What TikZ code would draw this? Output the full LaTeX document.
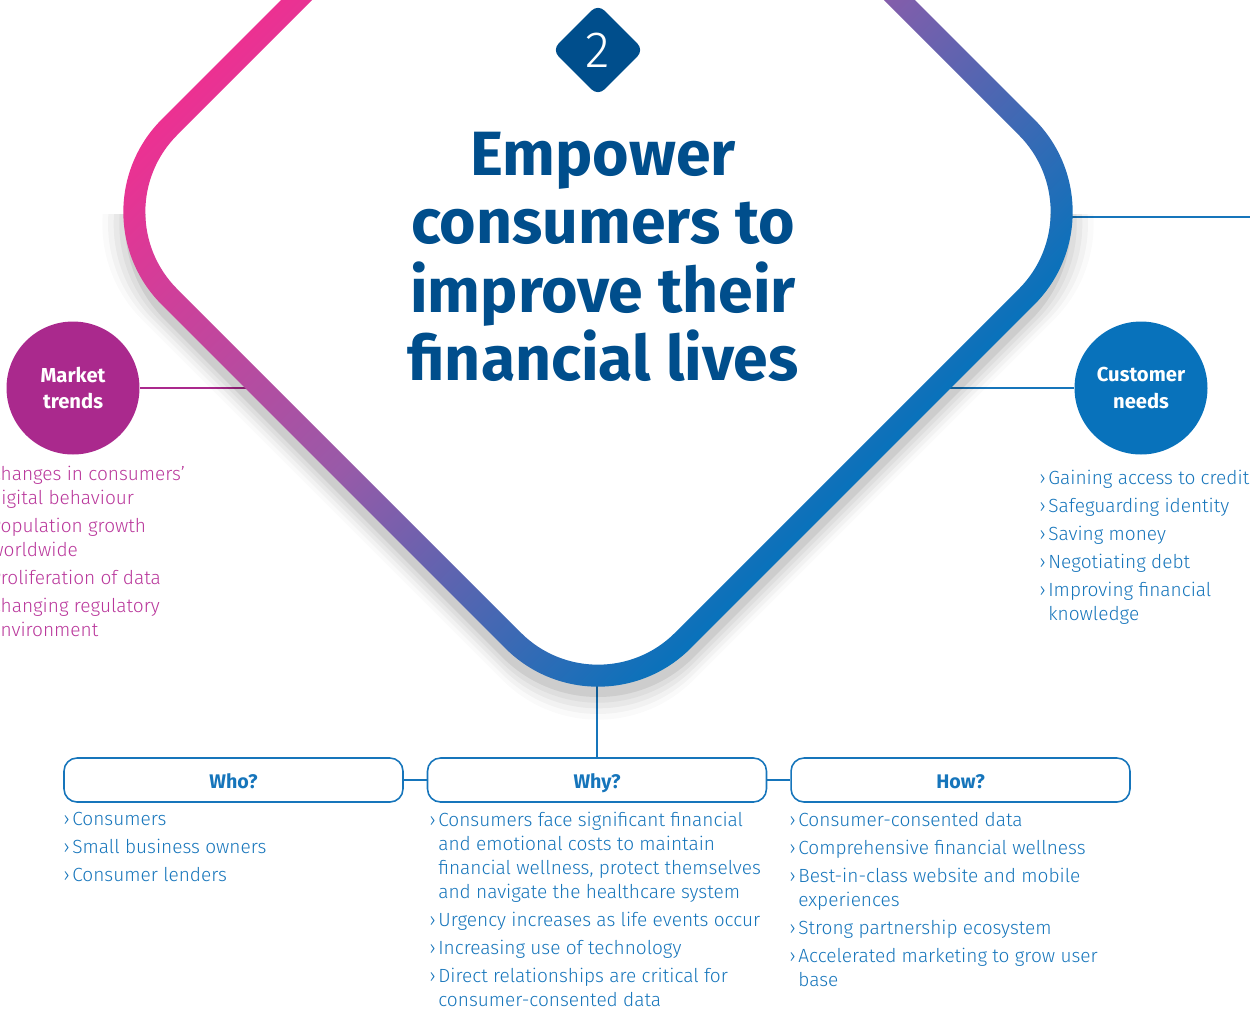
\documentclass[tikz,border=0pt]{standalone}
\usepackage{fontspec}
\usetikzlibrary{positioning, shapes.geometric}
\setmainfont{Fira Sans}
\IfFontExistsTF{Fira Sans Light}{\newfontfamily\lightfont{Fira Sans Light}}{\newfontfamily\lightfont{Fira Sans}}

\definecolor{mpink}{RGB}{236,49,146}
\definecolor{mpurple}{RGB}{152,90,168}
\definecolor{mblue}{RGB}{8,114,187}
\definecolor{tblue}{RGB}{0,78,140}
\definecolor{nblue}{RGB}{22,117,187}
\definecolor{mag}{RGB}{170,41,141}
\definecolor{magtext}{RGB}{185,55,155}

\newcommand\bul{\makebox[0.18cm][l]{\char"203A}}
\newcommand\cnt{\hspace*{0.18cm}}

\begin{document}
\begin{tikzpicture}[x=0.02cm, y=-0.02cm,
                    hub/.style={circle, minimum size=2.66cm, inner sep=0, text=white, align=center, font=\bfseries\fontsize{11.5}{15.3}\selectfont},
                    qbox/.style={draw=nblue, line width=0.9pt, rounded corners=0.26cm, minimum width=6.78cm, minimum height=0.88cm, inner sep=0, text height=10pt, text depth=0.8pt, text=nblue, font=\bfseries\fontsize{11.2}{13}\selectfont},
                    blist/.style={anchor=north west, align=left, inner sep=0, font=\lightfont\fontsize{10.85}{13.6}\selectfont},
                    link/.style={line width=0.85pt}]

    \useasboundingbox (0,0) rectangle (1250,1012);
    \clip (0,0) rectangle (1250,1012);

    % Nodes
    \node[hub, fill=mag] (trends) at (73,388) {Market\\trends};
    \node[hub, fill=mblue] (needs) at (1141,388) {Customer\\needs};

    \node[qbox] (why) at (597,780) {Why?};
    \node[qbox, left=0.46cm of why] (who) {Who?};
    \node[qbox, right=0.46cm of why] (how) {How?};

    \coordinate (trendsend) at (250,388);
    \coordinate (needsend) at (950,388);
    \coordinate (rightvtx) at (1068,217);
    \coordinate (rightedge) at (1250,217);
    \coordinate (bottomvtx) at (597,680);

    % Paths
    \draw[link, mag] (trends) -- (trendsend);
    \draw[link, nblue] (needs) -- (needsend);
    \draw[link, nblue] (rightvtx) -- (rightedge);
    \draw[link, nblue] (bottomvtx) -- (why);
    \draw[link, nblue] (who) -- (why);
    \draw[link, nblue] (why) -- (how);

    % shadow of the frame
    \begin{scope}
        \clip (0,214) rectangle (1250,1012);
        \foreach \d/\o in {0/0.07, 4/0.05, 8/0.04, 12/0.03, 16/0.02} {
            \begin{scope}[transform canvas={shift={(598,224)}, rotate=45}]
                \fill[black, opacity=\o, even odd rule, rounded corners=2.7cm]
                    (-374-\d,-374-\d) rectangle (374+\d,374+\d)
                    [rounded corners=2.18cm] (-352,-352) rectangle (352,352);
            \end{scope}
        }
    \end{scope}

    % frame
    \begin{scope}[transform canvas={shift={(598,212)}, rotate=45}]
        \shade[even odd rule, top color=mpink, bottom color=mblue, middle color=mpurple, rounded corners=2.62cm]
            (-374,-374) rectangle (374,374)
            [rounded corners=2.18cm] (-352,-352) rectangle (352,352);
    \end{scope}

    \node[diamond, fill=tblue, rounded corners=0.18cm, minimum width=1.84cm, minimum height=1.84cm, inner sep=0,
          text=white, font=\lightfont\fontsize{29}{30}\selectfont] (badge) at (598,50) {2};

    \node[text=tblue, align=center, font=\bfseries\fontsize{35.6}{39}\selectfont] (title) at (603,257)
        {Empower\\consumers to\\improve their\\financial lives};

    \node[blist, text=magtext] (trendlist) at (-19,466)
        {\bul Changes in consumers’\\ \cnt digital behaviour\\[2.3pt]
         \bul Population growth\\ \cnt worldwide\\[2.3pt]
         \bul Proliferation of data\\[2.3pt]
         \bul Changing regulatory\\ \cnt environment};

    \node[blist, text=nblue] (needlist) at (1039,470)
        {\bul Gaining access to credit\\[2.3pt]
         \bul Safeguarding identity\\[2.3pt]
         \bul Saving money\\[2.3pt]
         \bul Negotiating debt\\[2.3pt]
         \bul Improving financial\\ \cnt knowledge};

    \node[blist, text=nblue] (wholist) at (63,812)
        {\bul Consumers\\[2.3pt]
         \bul Small business owners\\[2.3pt]
         \bul Consumer lenders};

    \node[blist, text=nblue] (whylist) at (429,812)
        {\bul Consumers face significant financial\\ \cnt and emotional costs to maintain\\
         \cnt financial wellness, protect themselves\\ \cnt and navigate the healthcare system\\[2.3pt]
         \bul Urgency increases as life events occur\\[2.3pt]
         \bul Increasing use of technology\\[2.3pt]
         \bul Direct relationships are critical for\\ \cnt consumer-consented data};

    \node[blist, text=nblue] (howlist) at (789,812)
        {\bul Consumer-consented data\\[2.3pt]
         \bul Comprehensive financial wellness\\[2.3pt]
         \bul Best-in-class website and mobile\\ \cnt experiences\\[2.3pt]
         \bul Strong partnership ecosystem\\[2.3pt]
         \bul Accelerated marketing to grow user\\ \cnt base};

\end{tikzpicture}
\end{document}
